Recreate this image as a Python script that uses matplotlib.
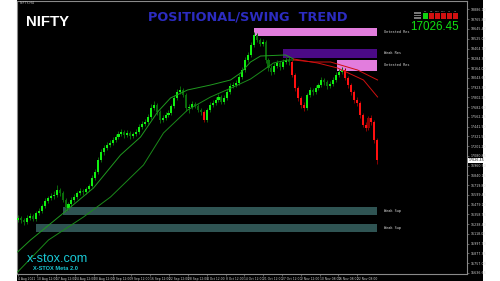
import matplotlib
matplotlib.use('Agg')
import matplotlib.pyplot as plt
from matplotlib.patches import Rectangle
import matplotlib.transforms as mtransforms

# ---------------- data ----------------
opens = [16290, 16313, 16288, 16263, 16313, 16337, 16300, 16374, 16399, 16461,
         16522, 16559, 16584, 16596, 16658, 16621, 16535, 16436, 16485, 16535,
         16572, 16621, 16646, 16633, 16671, 16707, 16806, 16880, 17029, 17127,
         17177, 17214, 17238, 17275, 17312, 17349, 17374, 17337, 17362, 17325,
         17349, 17374, 17436, 17473, 17498, 17559, 17670, 17707, 17621, 17522,
         17547, 17584, 17609, 17695, 17794, 17868, 17893, 17831, 17670, 17683,
         17720, 17695, 17646, 17621, 17522, 17646, 17707, 17732, 17769, 17806,
         17744, 17794, 17868, 17942, 17954, 17979, 18053, 18139, 18263, 18325,
         18448, 18571, 18510, 18460, 18485, 18263, 18164, 18115, 18189, 18226,
         18176, 18238, 18263, 18238, 18078, 17917, 17794, 17707, 17670, 17831,
         17893, 17868, 17917, 17954, 18016, 17991, 17942, 17967, 18016, 18078,
         18115, 18139, 18041, 17954, 17868, 17769, 17732, 17584, 17461, 17423,
         17547, 17498, 17275]
closes = [16313, 16288, 16263, 16313, 16337, 16300, 16374, 16399, 16461, 16522,
          16559, 16584, 16596, 16658, 16621, 16535, 16436, 16485, 16535, 16572,
          16621, 16646, 16633, 16671, 16707, 16806, 16880, 17029, 17127, 17177,
          17214, 17238, 17275, 17312, 17349, 17374, 17337, 17362, 17325, 17349,
          17374, 17436, 17473, 17498, 17559, 17670, 17707, 17621, 17522, 17547,
          17584, 17609, 17695, 17794, 17868, 17893, 17831, 17670, 17683, 17720,
          17695, 17646, 17621, 17522, 17646, 17707, 17732, 17769, 17806, 17744,
          17794, 17868, 17942, 17954, 17979, 18053, 18139, 18263, 18325, 18448,
          18571, 18510, 18460, 18485, 18263, 18164, 18115, 18189, 18226, 18176,
          18238, 18263, 18238, 18078, 17917, 17794, 17707, 17670, 17831, 17893,
          17868, 17917, 17954, 18016, 17991, 17942, 17967, 18016, 18078, 18115,
          18139, 18041, 17954, 17868, 17769, 17732, 17584, 17461, 17423, 17547,
          17498, 17275, 17026.45]
highs = [16350, 16340, 16310, 16345, 16375, 16360, 16400, 16430, 16490, 16555,
         16590, 16620, 16640, 16720, 16685, 16640, 16555, 16515, 16570, 16605,
         16650, 16680, 16675, 16700, 16735, 16840, 16915, 17065, 17165, 17215,
         17255, 17280, 17315, 17350, 17385, 17415, 17400, 17395, 17385, 17380,
         17405, 17470, 17505, 17540, 17595, 17715, 17755, 17730, 17640, 17585,
         17615, 17640, 17725, 17830, 17905, 17945, 17920, 17855, 17720, 17755,
         17745, 17720, 17675, 17640, 17675, 17740, 17765, 17800, 17840, 17830,
         17825, 17900, 17975, 17990, 18015, 18085, 18175, 18300, 18365, 18485,
         18604, 18595, 18540, 18520, 18505, 18290, 18195, 18220, 18260, 18250,
         18270, 18300, 18295, 18260, 18100, 17940, 17820, 17740, 17860, 17925,
         17920, 17950, 17985, 18050, 18040, 18015, 18000, 18050, 18110, 18150,
         18175, 18160, 18065, 17980, 17890, 17800, 17755, 17610, 17500, 17575,
         17580, 17520, 17300]
lows = [16260, 16255, 16230, 16240, 16290, 16275, 16280, 16350, 16380, 16440,
        16495, 16530, 16550, 16575, 16590, 16505, 16400, 16410, 16460, 16510,
        16550, 16595, 16600, 16610, 16645, 16690, 16780, 16860, 17005, 17095,
        17150, 17185, 17210, 17245, 17285, 17320, 17305, 17310, 17290, 17295,
        17325, 17350, 17410, 17445, 17475, 17535, 17640, 17590, 17490, 17495,
        17520, 17560, 17585, 17670, 17770, 17840, 17805, 17630, 17610, 17655,
        17665, 17615, 17590, 17495, 17500, 17620, 17680, 17705, 17740, 17715,
        17720, 17770, 17840, 17915, 17925, 17955, 18030, 18115, 18235, 18300,
        18420, 18480, 18430, 18430, 18230, 18130, 18080, 18090, 18160, 18145,
        18150, 18210, 18205, 18050, 17885, 17760, 17670, 17630, 17645, 17805,
        17835, 17840, 17890, 17930, 17960, 17910, 17915, 17940, 17990, 18050,
        18085, 18010, 17920, 17835, 17735, 17695, 17550, 17430, 17385, 17400,
        17465, 17240, 16980]
# 1 = uptrend colouring (green), -1 = downtrend colouring (red)
trend = [1] * 63 + [-1] + [1] * 29 + [-1] * 5 + [1] * 13 + [-1] * 12

# moving-average readings (bar index, price)
ma_fast_up_x = [-0.3, 4.1, 15.3, 25.5, 34.7, 41.5, 47.3, 51.7, 57.5, 65.3, 72.1, 75.5, 78.9, 82.3, 90.8, 93.5]
ma_fast_up_y = [15893, 16041, 16374, 16683, 17090, 17312, 17621, 17794, 17893, 17954, 18016, 18102, 18238, 18312, 18325, 18275]
ma_fast_dn_x = [93.5, 101.7, 108.5, 117.3, 122.1]
ma_fast_dn_y = [18275, 18226, 18164, 18016, 17806]
ma_slow_up_x = [-0.3, 10.2, 22.1, 31.3, 42.5, 49.3, 57.5, 65.3, 73.1, 78.9, 83.3, 86.7, 91.5, 93.5]
ma_slow_up_y = [15646, 16041, 16325, 16572, 16967, 17362, 17646, 17806, 17930, 18028, 18139, 18226, 18263, 18263]
ma_slow_dn_x = [93.5, 100.3, 106.1, 115.3, 122.1]
ma_slow_dn_y = [18263, 18238, 18238, 18139, 18016]

# supply / demand zones
zone_labels = ["Untested Res", "Weak Res", "Untested Res", "Weak Sup", "Weak Sup"]
zone_top = [18658, 18399, 18263, 16448, 16239]
zone_bottom = [18559, 18288, 18127, 16350, 16140]
zone_start = [80.0, 89.8, 108.2, 15.3, 5.8]
zone_end = [121.8, 121.8, 121.8, 121.8, 121.8]
zone_colors = ["#e27ddd", "#4b0a86", "#e27ddd", "#2f5453", "#2f5453"]

price_ticks = [18886.10, 18765.80, 18645.40, 18525.05, 18404.70, 18284.35, 18164.00,
               18043.65, 17923.30, 17802.95, 17682.60, 17562.25, 17441.90, 17321.55,
               17201.20, 17080.85, 16960.50, 16840.15, 16719.80, 16599.45, 16479.10,
               16358.75, 16238.40, 16118.05, 15997.70, 15877.35, 15757.00, 15636.65]
last_price = 17026.45

time_labels = ["4 Aug 2021", "10 Aug 12:00", "17 Aug 12:00", "24 Aug 12:00", "30 Aug 12:00",
               "3 Sep 12:00", "9 Sep 12:00", "16 Sep 12:00", "22 Sep 12:00", "28 Sep 12:00",
               "4 Oct 12:00", "8 Oct 12:00", "14 Oct 12:00", "21 Oct 12:00", "27 Oct 12:00",
               "2 Nov 12:00", "10 Nov 08:00", "16 Nov 08:00", "22 Nov 08:00"]
time_label_bars = [0, 6.4, 12.8, 19.2, 25.6, 32.0, 38.4, 44.8, 51.2, 57.6,
                   64.0, 70.4, 76.8, 83.2, 89.6, 96.0, 102.4, 108.8, 115.2]

# ---------------- figure ----------------
W, H = 500, 281
fig = plt.figure(figsize=(5.0, 2.81), dpi=100, facecolor='white')

def fx(x):
    return x / W

def fy(y):
    return 1 - y / H

# black terminal panel
fig.patches.append(Rectangle((fx(17), 0), fx(483) - fx(17), 1, transform=fig.transFigure,
                             facecolor='black', edgecolor='none', zorder=-5))

ax = fig.add_axes([fx(17), fy(274), fx(467) - fx(17), fy(1) - fy(274)])
ax.set_zorder(1)
ax.set_facecolor('black')
for s in ax.spines.values():
    s.set_color('#8a8a8a')
    s.set_linewidth(0.8)

n = len(closes)
idx = list(range(n))
ax.set_xlim(-0.5, 152.5)
ax.set_ylim(15621.4, 18991.0)

# zones
for lab, t, b, s0, s1, c in zip(zone_labels, zone_top, zone_bottom, zone_start, zone_end, zone_colors):
    ax.add_patch(Rectangle((s0, b), s1 - s0, t - b, facecolor=c, edgecolor='none', zorder=1))
    ax.text(124.2, (t + b) / 2, lab, color='#d8d8d8', fontsize=2.6, family='DejaVu Sans Mono',
            va='center', ha='left', zorder=5)

# candles
bright_up, dark_up = '#10f010', '#0a6a0a'
bright_dn, dark_dn = '#ff1010', '#8a0000'
for i in idx:
    o, c, h, l = opens[i], closes[i], highs[i], lows[i]
    bull = c >= o
    if trend[i] == 1:
        col = bright_up if bull else dark_up
        wcol = dark_up
    else:
        col = dark_dn if bull else bright_dn
        wcol = dark_dn
    ax.vlines(i, l, h, color=wcol, linewidth=0.7, zorder=2)
    ax.bar(i, abs(c - o) if abs(c - o) > 6 else 6, bottom=min(o, c), width=0.7,
           color=col, edgecolor='none', zorder=3)

# moving averages
ax.plot(ma_fast_up_x, ma_fast_up_y, color='#1f9a1f', lw=0.7, zorder=4)
ax.plot(ma_slow_up_x, ma_slow_up_y, color='#1a8a1a', lw=0.7, zorder=4)
ax.plot(ma_fast_dn_x, ma_fast_dn_y, color='#d01010', lw=0.7, zorder=4)
ax.plot(ma_slow_dn_x, ma_slow_dn_y, color='#d01010', lw=0.7, zorder=4)

# price axis
ax.yaxis.tick_right()
ax.set_yticks(price_ticks)
ax.set_yticklabels([f"{v:.2f}" for v in price_ticks], fontsize=2.3, color='#d0d0d0')
ax.tick_params(axis='y', length=1.5, width=0.4, color='#a0a0a0', pad=1)
ax.set_xticks(time_label_bars)
ax.set_xticklabels(time_labels, fontsize=2.2, color='#d0d0d0', ha='left')
ax.tick_params(axis='x', length=1.5, width=0.4, color='#a0a0a0', pad=0.8)

ytr = mtransforms.blended_transform_factory(ax.transAxes, ax.transData)
ax.text(1.003, last_price, f"{last_price:.2f}", transform=ytr, fontsize=2.3, color='black',
        va='center', ha='left', zorder=6,
        bbox=dict(boxstyle='square,pad=0.15', facecolor='white', edgecolor='none'))

# titles / texts
fig.text(fx(26), fy(25.5), "NIFTY", color='white', fontsize=10.8, fontweight='bold',
         family='Liberation Sans', zorder=10)
fig.text(fx(148), fy(20.5), "POSITIONAL/SWING  TREND", color='#2c2cc0', fontsize=9.3,
         fontweight='bold', family='DejaVu Sans', zorder=10)
fig.text(fx(410), fy(29.5), f"{last_price:.2f}", color='#10e010', fontsize=8.4,
         family='Liberation Sans', zorder=10)
fig.text(fx(27), fy(262), "x-stox.com", color='#19c9d6', fontsize=9.1, family='Liberation Sans',
         zorder=10)
fig.text(fx(33), fy(269.5), "X-STOX Meta 2.0", color='#19c9d6', fontsize=4.1,
         fontweight='bold', family='Liberation Sans', zorder=10)
fig.text(fx(20), fy(4.5), "NIFTY,H4", color='#c8c8c8', fontsize=2.3, zorder=10)

# small strength widget (top right)
def frect(x, y, w, h, c):
    fig.patches.append(Rectangle((fx(x), fy(y + h)), w / W, h / H, transform=fig.transFigure,
                                 facecolor=c, edgecolor='none', zorder=10))

col_x = [423, 429, 435, 441, 447, 453]
col_names = ["M1", "M5", "M15", "M30", "H1", "H4"]
for k, x in enumerate(col_x):
    for r, y in enumerate([13.3, 15.3, 17.3]):
        c = '#10d010' if k == 0 else '#d01010'
        frect(x, y, 5, 1.5, c)
    fig.text(fx(x + 2.5), fy(12), col_names[k], color='#bbbbbb', fontsize=1.6, ha='center',
             zorder=10)
for r, y in enumerate([12.5, 15, 17.5]):
    frect(414, y, 7, 1.2, '#777777')

fig.savefig('out.png', dpi=100, facecolor='white')
